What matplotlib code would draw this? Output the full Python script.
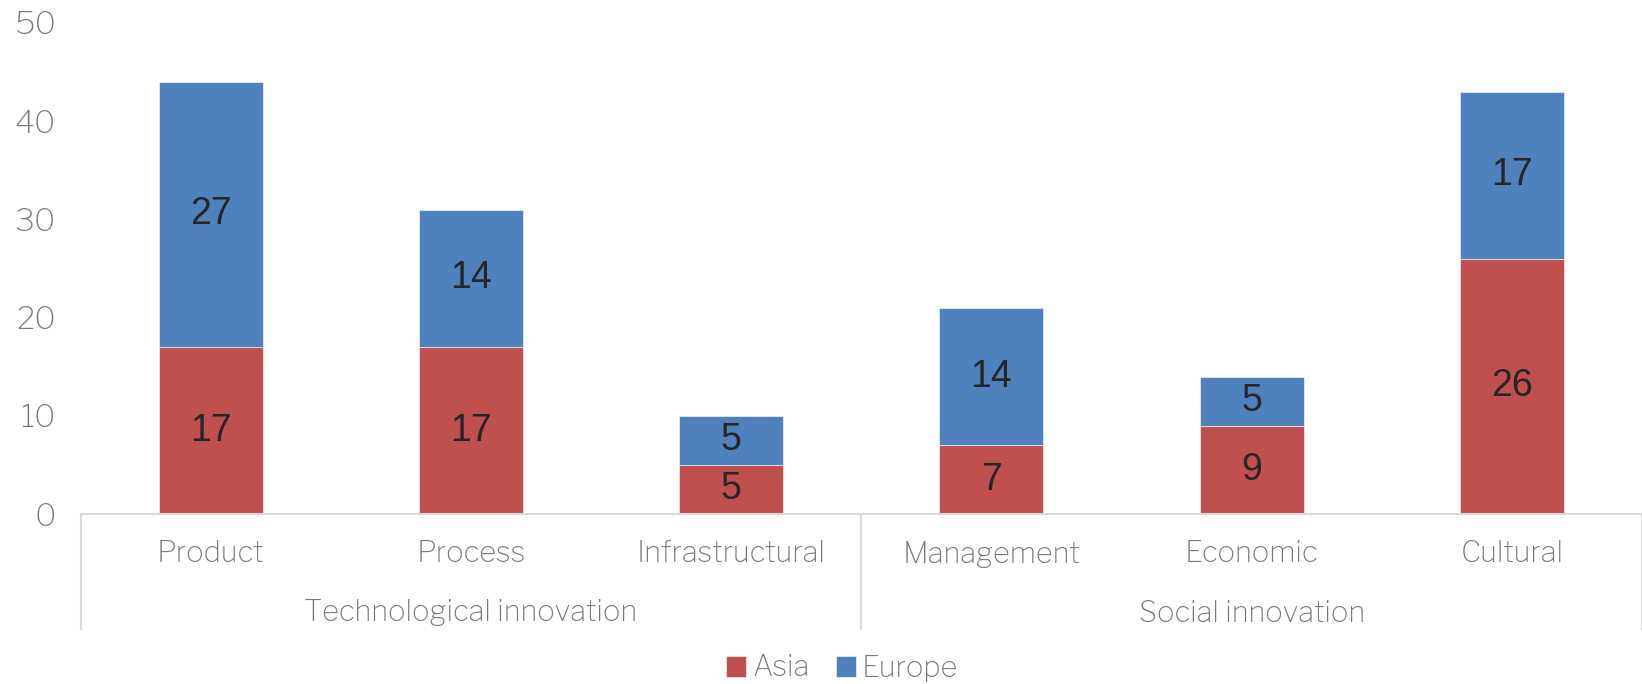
import matplotlib
matplotlib.use("Agg")
import matplotlib.pyplot as plt
import matplotlib.transforms as mtransforms
import numpy as np

categories = ["Product", "Process", "Infrastructural", "Management", "Economic", "Cultural"]
groups = ["Technological innovation", "Social innovation"]
group_sizes = [3, 3]
asia = [17, 17, 5, 7, 9, 26]
europe = [27, 14, 5, 14, 5, 17]
series_names = ["Asia", "Europe"]
colors = ["#C0504D", "#4F81BD"]

label_font = ["Libre Franklin", "DejaVu Sans"]
value_font = ["Liberation Sans", "DejaVu Sans"]
gray = "#787878"
line_gray = "#D9D9D9"
lsize = 21
ysize = 23

W, H = 1642, 684
fig = plt.figure(figsize=(W / 100, H / 100), dpi=100)
left, right, top, bottom = 80.6, 1642, 23, 514
ax = fig.add_axes([left / W, 1 - bottom / H, (right - left) / W, (bottom - top) / H])

x = np.arange(len(categories))
bw = 0.40
b1 = ax.bar(x, asia, bw, color=colors[0], edgecolor="white", linewidth=0.4, label=series_names[0])
b2 = ax.bar(x, europe, bw, bottom=asia, color=colors[1], edgecolor="white", linewidth=0.4, label=series_names[1])

for bars, vals, bots in [(b1, asia, [0] * len(asia)), (b2, europe, asia)]:
    for xi, v, b in zip(x, vals, bots):
        ax.text(xi, b + v / 2, str(v), ha="center", va="center", fontsize=27,
                color="#262626", family=value_font)

ax.set_xlim(-0.5, len(categories) - 0.5)
ax.set_ylim(0, 50)
ax.set_yticks([0, 10, 20, 30, 40, 50])
ax.tick_params(axis="y", length=0, pad=18, labelsize=ysize, labelcolor=gray)
for lab in ax.get_yticklabels():
    lab.set_family(label_font)
ax.set_xticks([])

for s in ["top", "right", "left"]:
    ax.spines[s].set_visible(False)
ax.spines["bottom"].set_color(line_gray)
ax.spines["bottom"].set_linewidth(1.5)

axh = bottom - top
trans = mtransforms.blended_transform_factory(ax.transData, ax.transAxes)
y_cat = -(554 - bottom) / axh
y_grp = -(613 - bottom) / axh
y_line = -(629 - bottom) / axh

for xi, c in zip(x, categories):
    ax.text(xi, y_cat, c, transform=trans, ha="center", va="center",
            fontsize=lsize, color=gray, family=label_font)

start = 0
bounds = [-0.5]
for g, n in zip(groups, group_sizes):
    center = start + (n - 1) / 2
    ax.text(center, y_grp, g, transform=trans, ha="center", va="center",
            fontsize=lsize, color=gray, family=label_font)
    start += n
    bounds.append(start - 0.5)
for bx in bounds:
    ax.plot([bx, bx], [0, y_line], transform=trans, color=line_gray, lw=1.5, clip_on=False)

handles = [b1, b2]
leg = fig.legend(handles, series_names, loc="center", bbox_to_anchor=(842 / W, 1 - 668 / H),
                 ncol=2, frameon=False, handlelength=0.7, handleheight=0.7,
                 handletextpad=0.2, columnspacing=0.9,
                 prop={"family": label_font, "size": lsize})
for t in leg.get_texts():
    t.set_color(gray)

fig.savefig("out.png", dpi=100)
